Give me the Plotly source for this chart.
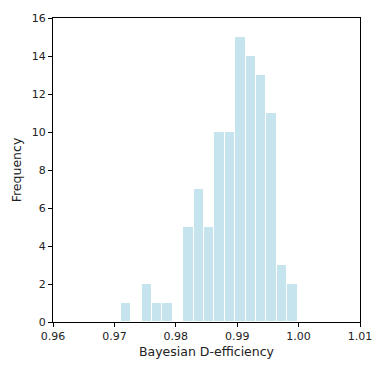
import plotly.graph_objects as go

# histogram of Bayesian D-efficiency (counts)
bin_start = 0.97104
bin_width = 0.001693
counts = [1, 0, 2, 1, 1, 0, 5, 7, 5, 10, 10, 15, 14, 13, 11, 3, 2]

x_ticks = [0.96, 0.97, 0.98, 0.99, 1.00, 1.01]
y_ticks = [0, 2, 4, 6, 8, 10, 12, 14, 16]

centers = [bin_start + (i + 0.5) * bin_width for i in range(len(counts))]

fig = go.Figure()
fig.add_trace(go.Bar(
    x=centers, y=counts, width=bin_width,
    marker=dict(color="rgba(173,216,230,0.7)", line=dict(color="white", width=1)),
))

axis_style = dict(showline=True, linecolor="black", linewidth=1, mirror=True,
                  ticks="outside", ticklen=4, tickcolor="black", showgrid=False,
                  zeroline=False, tickfont=dict(size=11, color="#222"))

fig.update_layout(
    width=384, height=370,
    margin=dict(l=53, r=23, t=14, b=48),
    plot_bgcolor="white", paper_bgcolor="white",
    font=dict(family="DejaVu Sans", color="#222"),
    showlegend=False, bargap=0,
    xaxis=dict(range=[0.96, 1.01], tickvals=x_ticks, tickformat=".2f",
               title=dict(text="Bayesian D-efficiency", font=dict(size=12.5), standoff=5),
               **axis_style),
    yaxis=dict(range=[0, 16], tickvals=y_ticks,
               title=dict(text="Frequency", font=dict(size=12.5), standoff=7),
               **axis_style),
)

# drop the browser's default body margin so the figure sits at the page corner
fig.write_html("out.html", config={"displayModeBar": False},
               post_script="document.body.style.margin='0';")
